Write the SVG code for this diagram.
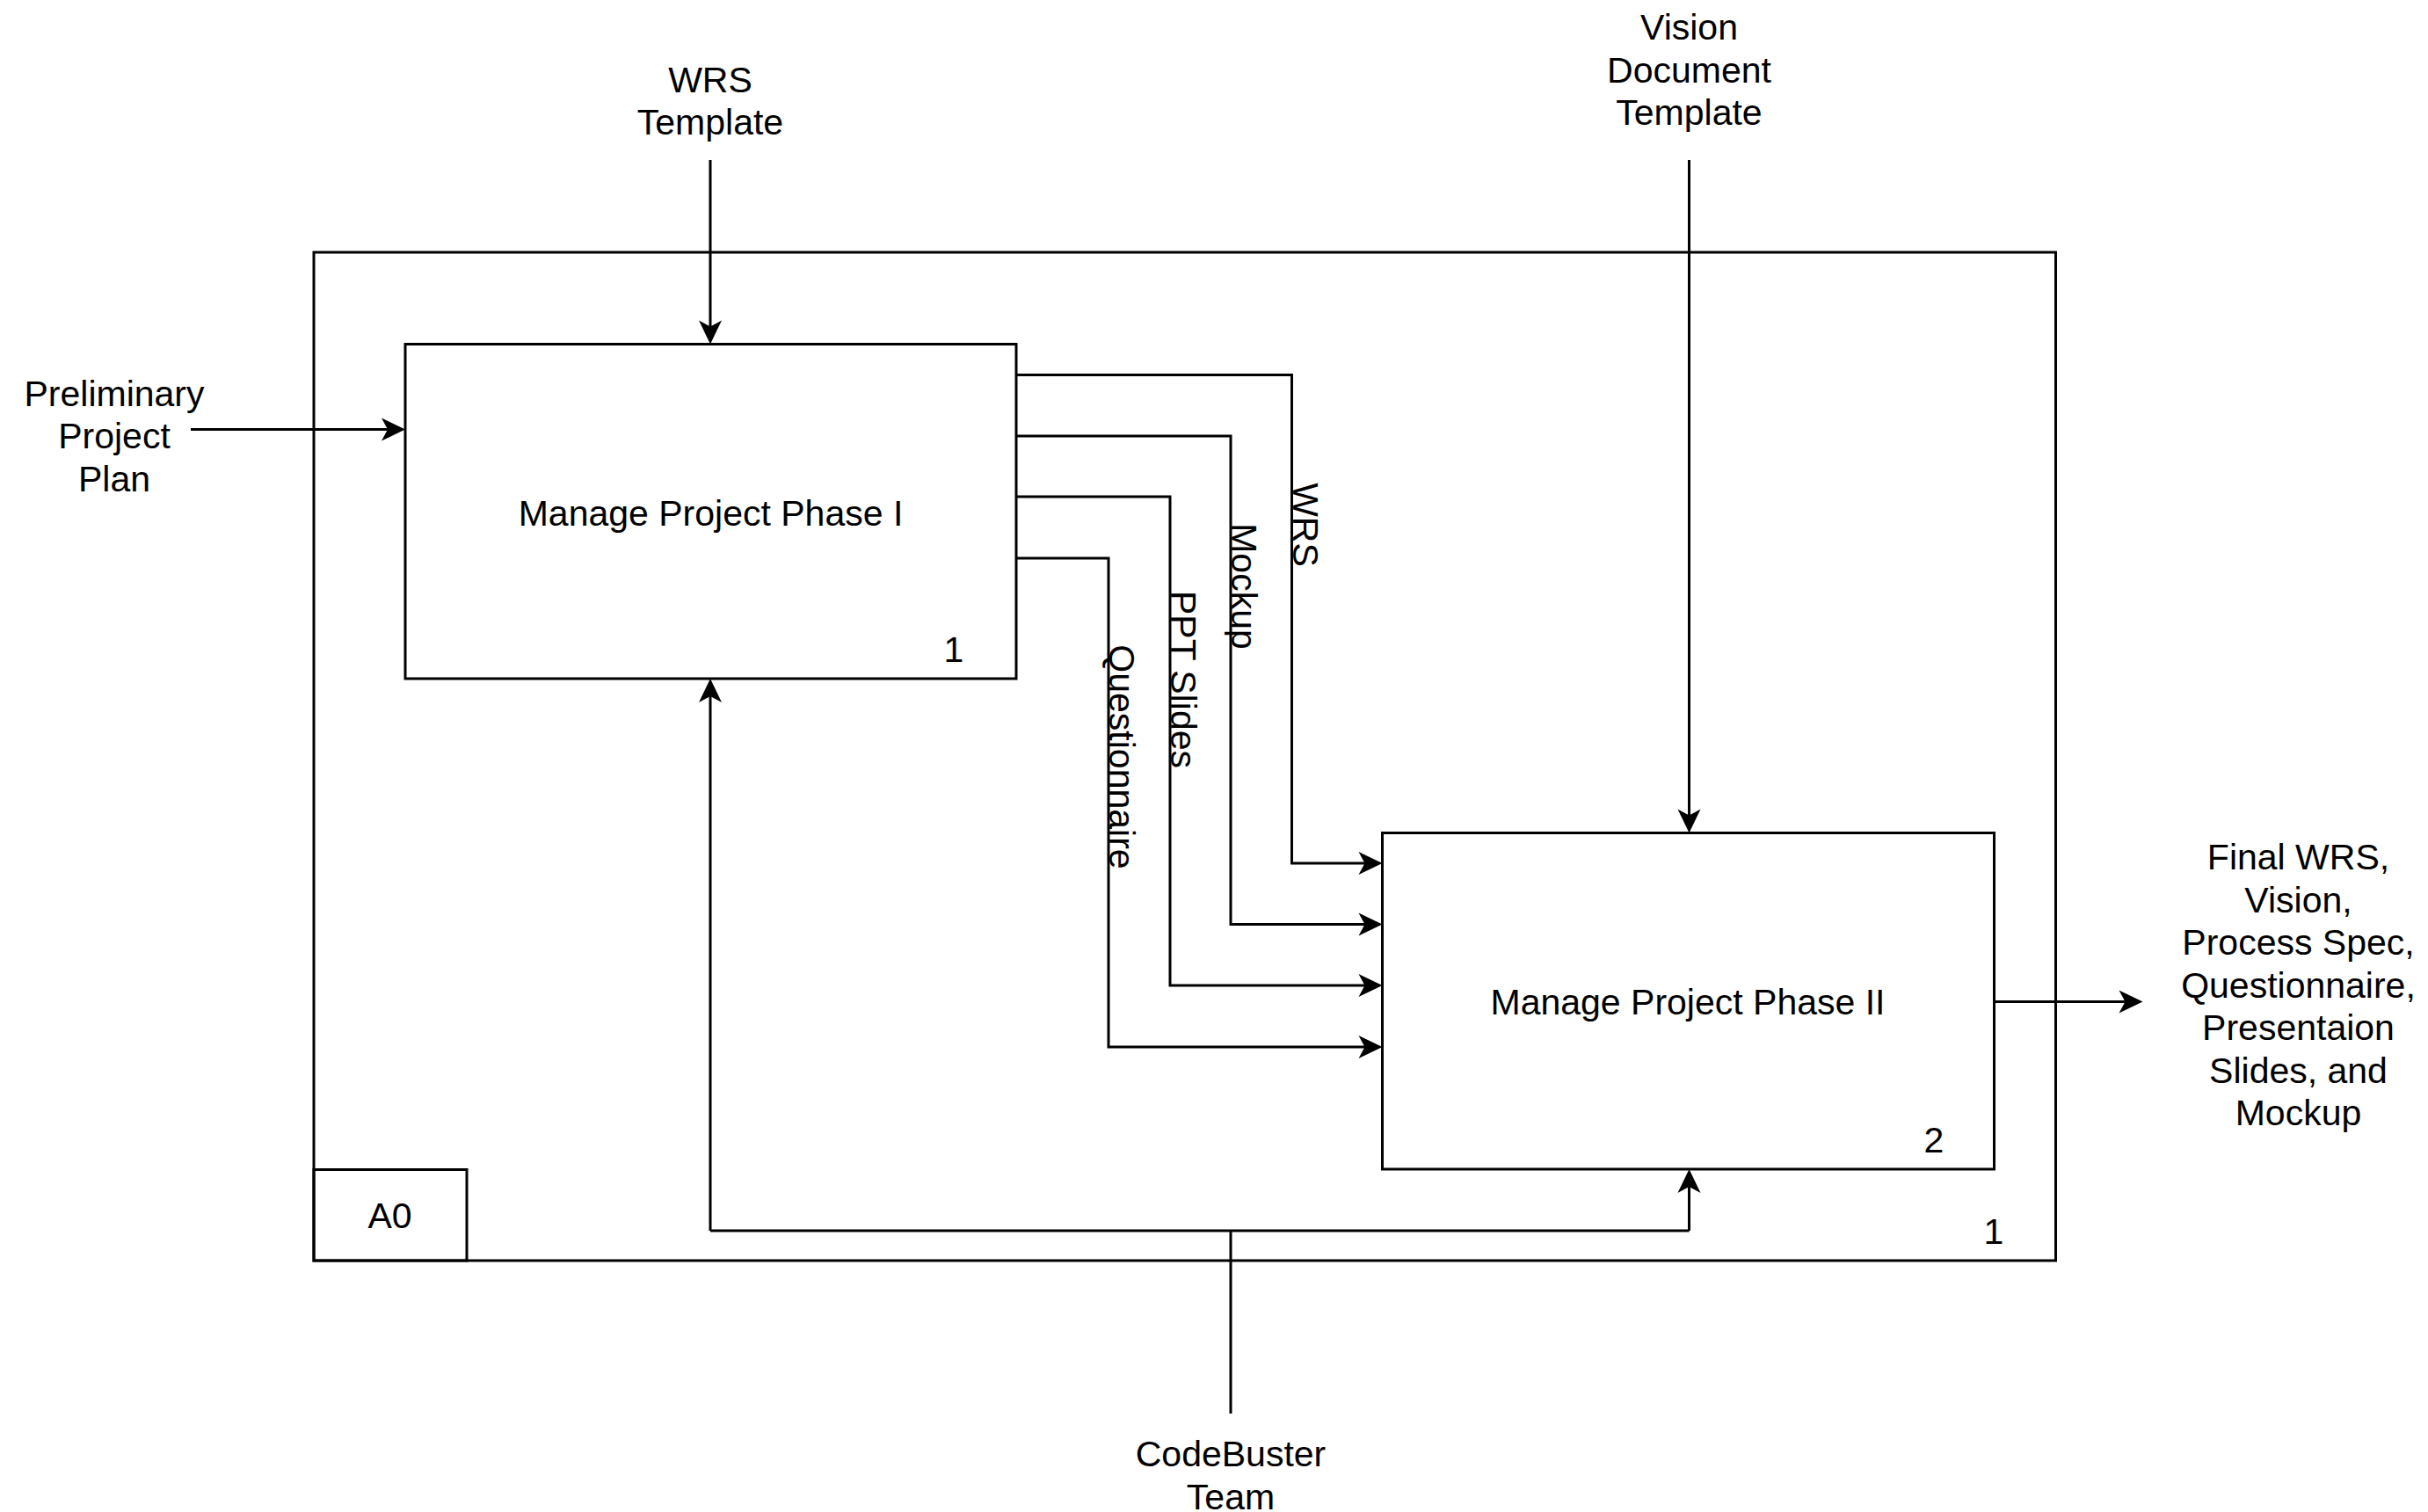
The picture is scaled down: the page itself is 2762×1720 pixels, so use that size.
<svg xmlns="http://www.w3.org/2000/svg" width="2762" height="1720" viewBox="0 0 2762 1720">
<style>
text{font-family:"Liberation Sans",Arial,sans-serif;font-size:41px;fill:#000}
.c{text-anchor:middle}
.box{fill:#fff;stroke:#000;stroke-width:3}
.frame{fill:none;stroke:#000;stroke-width:3}
.ln{fill:none;stroke:#000;stroke-width:3}
</style>
<defs>
<marker id="arr" markerUnits="userSpaceOnUse" orient="auto" refX="0" refY="0" markerWidth="40" markerHeight="40" overflow="visible">
<path d="M18,0 L-9,-13 L-2,0 L-9,13 Z" fill="#000" stroke="none"/>
</marker>
</defs>
<rect width="2762" height="1720" fill="#fff"/>
<g id="frame">
<rect class="frame" x="357" y="287" width="1981.5" height="1147"/>
<text x="2268" y="1415" class="c">1</text>
</g>
<g id="a0">
<rect class="frame" x="357" y="1330.5" width="174" height="103.5"/>
<text x="443.5" y="1397" class="c">A0</text>
</g>
<g id="connectors">
<path class="ln" d="M808,182 V373.5" marker-end="url(#arr)"/>
<path class="ln" d="M1921.5,182 V929.5" marker-end="url(#arr)"/>
<path class="ln" d="M217,488.5 H443" marker-end="url(#arr)"/>
<path class="ln" d="M1156,426.5 H1469.5 V982 H1554.5" marker-end="url(#arr)"/>
<path class="ln" d="M1156,496 H1400 V1051.5 H1554.5" marker-end="url(#arr)"/>
<path class="ln" d="M1156,565 H1331 V1121 H1554.5" marker-end="url(#arr)"/>
<path class="ln" d="M1156,635 H1261 V1191 H1554.5" marker-end="url(#arr)"/>
<path class="ln" d="M2268.5,1139.5 H2419.5" marker-end="url(#arr)"/>
<path class="ln" d="M1400,1608 V1400" />
<path class="ln" d="M808,1400 H1921.5" />
<path class="ln" d="M808,1400 V790" marker-end="url(#arr)"/>
<path class="ln" d="M1921.5,1400 V1348" marker-end="url(#arr)"/>
<text class="c" x="1471" y="597" transform="rotate(90 1471 597)">WRS</text>
<text class="c" x="1401" y="667" transform="rotate(90 1401 667)">Mockup</text>
<text class="c" x="1332" y="773" transform="rotate(90 1332 773)">PPT Slides</text>
<text class="c" x="1262" y="861" transform="rotate(90 1262 861)">Questionnaire</text>
</g>
<g id="box1">
<rect class="box" x="461" y="391.5" width="695" height="380.5"/>
<text x="808.5" y="598" class="c">Manage Project Phase I</text>
<text x="1085" y="753" class="c">1</text>
</g>
<g id="box2">
<rect class="box" x="1572.5" y="947.5" width="696" height="382.5"/>
<text x="1920" y="1153.5" class="c">Manage Project Phase II</text>
<text x="2200" y="1310.5" class="c">2</text>
</g>
<g id="wrs-template">
<text x="808" y="104.5" class="c">WRS</text>
<text x="808" y="152.5" class="c">Template</text>
</g>
<g id="vision-template">
<text x="1921.5" y="45" class="c">Vision</text>
<text x="1921.5" y="93.5" class="c">Document</text>
<text x="1921.5" y="142" class="c">Template</text>
</g>
<g id="preliminary">
<text x="130" y="461.5" class="c">Preliminary</text>
<text x="130" y="510" class="c">Project</text>
<text x="130" y="558.5" class="c">Plan</text>
</g>
<g id="codebuster">
<text x="1400" y="1668" class="c">CodeBuster</text>
<text x="1400" y="1716.5" class="c">Team</text>
</g>
<g id="outputs">
<text x="2614.5" y="989" class="c">Final WRS,</text>
<text x="2614.5" y="1037.5" class="c">Vision,</text>
<text x="2614.5" y="1086" class="c">Process Spec,</text>
<text x="2614.5" y="1134.5" class="c">Questionnaire,</text>
<text x="2614.5" y="1183" class="c">Presentaion</text>
<text x="2614.5" y="1231.5" class="c">Slides, and</text>
<text x="2614.5" y="1280" class="c">Mockup</text>
</g>
</svg>
